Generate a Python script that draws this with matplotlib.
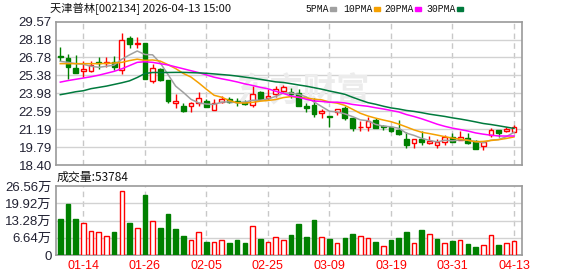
import numpy as np
import matplotlib
matplotlib.use("Agg")
import matplotlib.pyplot as plt

plt.rcParams['font.family'] = ['Noto Sans CJK SC', 'DejaVu Sans']

# ---------------- data ----------------
stock_title = "天津普林[002134] 2026-04-13 15:00"
date_labels = ["01-14", "01-26", "02-05", "02-25", "03-09", "03-19", "03-31", "04-13"]
date_label_idx = [3, 11, 19, 27, 35, 43, 51, 59]

opens = [26.89, 26.74, 25.97, 25.76, 25.71, 26.43, 26.38, 26.40, 25.84, 28.28,
         27.85, 27.90, 24.94, 25.89, 25.04, 23.27, 23.03, 22.98, 23.24, 23.42,
         22.70, 23.32, 23.52, 23.39, 23.34, 23.11, 24.09, 23.65, 23.91, 24.17,
         24.06, 24.04, 23.03, 23.06, 22.42, 22.19, 22.52, 22.88, 22.03, 21.34,
         21.39, 21.93, 21.44, 21.34, 21.13, 20.43, 20.15, 20.41, 20.13, 19.97,
         20.20, 20.56, 20.38, 20.48, 20.30, 19.89, 20.74, 21.10, 21.08, 20.97]
highs = [27.59, 27.05, 26.97, 26.48, 26.48, 26.79, 26.79, 26.89, 28.67, 28.44,
         28.36, 27.90, 26.30, 25.95, 25.04, 23.96, 23.24, 23.29, 24.06, 23.52,
         23.55, 23.81, 23.73, 23.65, 23.50, 24.53, 24.17, 24.32, 24.58, 24.63,
         24.37, 24.32, 23.27, 23.65, 22.78, 22.21, 22.78, 23.03, 22.03, 21.80,
         22.11, 22.06, 21.54, 21.39, 21.90, 20.94, 20.41, 21.03, 20.69, 20.46,
         20.72, 20.87, 21.08, 20.87, 20.38, 20.20, 21.26, 21.10, 21.39, 21.54]
lows = [26.48, 25.14, 25.61, 25.27, 25.66, 25.92, 26.05, 25.79, 25.53, 27.54,
        27.51, 25.07, 24.76, 24.94, 23.27, 22.88, 22.57, 22.57, 22.98, 22.91,
        22.67, 23.21, 23.27, 22.98, 23.06, 22.91, 23.52, 23.44, 23.70, 24.04,
        23.65, 22.98, 22.52, 22.18, 22.06, 21.34, 22.31, 21.90, 21.08, 21.08,
        21.08, 21.29, 21.13, 20.95, 20.74, 19.71, 19.76, 19.97, 20.05, 19.71,
        19.92, 20.18, 20.33, 20.05, 19.66, 19.58, 20.56, 20.61, 20.95, 20.95]
closes = [26.79, 26.02, 25.61, 25.89, 26.17, 26.38, 26.43, 26.07, 28.18, 27.85,
          27.90, 25.07, 25.94, 25.01, 23.37, 23.35, 22.62, 23.24, 23.63, 22.91,
          23.21, 23.52, 23.34, 23.29, 23.16, 23.93, 23.52, 23.81, 24.32, 24.45,
          23.96, 22.98, 22.83, 22.36, 22.62, 22.16, 22.73, 22.06, 21.29, 21.36,
          21.82, 21.29, 21.39, 21.03, 20.79, 19.92, 20.41, 20.23, 20.25, 20.20,
          20.56, 20.18, 20.61, 20.10, 19.66, 20.20, 21.10, 20.87, 21.21, 21.39]
prev_close = 26.95  # close of the day before the first visible candle

# volume in 万
volumes = [13.92, 19.73, 13.92, 12.25, 9.15, 8.77, 7.22, 8.90, 24.63, 12.38,
           10.31, 23.21, 13.02, 10.44, 15.86, 10.06, 7.35, 5.67, 8.77, 5.03,
           4.90, 5.67, 4.64, 5.80, 4.64, 11.09, 6.19, 4.90, 6.83, 5.67,
           7.74, 11.99, 6.96, 13.54, 6.83, 6.19, 4.51, 6.58, 8.12, 7.22,
           6.45, 5.03, 3.35, 5.80, 6.58, 8.90, 4.51, 9.67, 7.99, 6.19,
           4.51, 5.42, 5.67, 4.25, 3.09, 3.74, 7.61, 3.87, 4.51, 5.3784]

# moving-average values before enough visible closes exist
ma5_head = [26.48, 26.40, 26.30, 26.25]
ma10_head = [26.30, 26.30, 26.30, 26.30, 26.30, 26.30, 26.32, 26.35, 26.40]
ma20_head = [24.86, 24.98, 25.08, 25.18, 25.28, 25.40, 25.55, 25.70, 25.90, 26.15,
             26.40, 26.45, 26.40, 26.30, 26.20, 26.05, 25.90, 25.75, 25.60]
ma30_head = [23.88, 23.99, 24.11, 24.19, 24.35, 24.45, 24.55, 24.68, 24.81, 24.96,
             25.22, 25.53, 25.61, 25.61, 25.61, 25.62, 25.62, 25.60, 25.58, 25.55,
             25.50, 25.45, 25.40, 25.33, 25.25, 25.17, 25.08, 24.98, 24.88]

price_ticks = [18.40, 19.79, 21.19, 22.59, 23.98, 25.38, 26.78, 28.18, 29.57]
vol_ticks = [0, 6.64, 13.28, 19.92, 26.56]
vol_tick_labels = ["0", "6.64万", "13.28万", "19.92万", "26.56万"]
ma_names = ["5PMA", "10PMA", "20PMA", "30PMA"]

# ---------------- derived ----------------
o = np.array(opens); h = np.array(highs); l = np.array(lows); c = np.array(closes)
v = np.array(volumes)
n = len(c)
x = np.arange(n)


def moving_avg(head, window):
    vals = list(head)
    for i in range(len(head), n):
        vals.append(c[i - window + 1:i + 1].mean())
    return np.array(vals)


mas = [moving_avg(ma5_head, 5), moving_avg(ma10_head, 10),
       moving_avg(ma20_head, 20), moving_avg(ma30_head, 30)]
ma_colors = ["#a0a0a0", "#f5a000", "#ff00ff", "#007a3d"]

RED = "#ff0000"
GREEN = "#008000"
up = c >= o
prevc = np.concatenate([[prev_close], c[:-1]])
vol_up = c >= prevc

# ---------------- figure ----------------
W, H = 578, 276
fig = plt.figure(figsize=(W / 100, H / 100), dpi=100)


def fx(px):
    return px / W


def fy(py):
    return 1 - py / H


ax = fig.add_axes([fx(56), fy(165), fx(522) - fx(56), fy(21.7) - fy(165)])
axv = fig.add_axes([fx(56), fy(255), fx(522) - fx(56), fy(186.3) - fy(255)])

xlim = (-0.56, 60.04)
grid_c = "#d2d2d2"
dash_c = "#c8c8c8"
frame_c = "#9a9a9a"

for a in (ax, axv):
    a.set_xlim(*xlim)
    for s in a.spines.values():
        s.set_color(frame_c)
        s.set_linewidth(1.2)
    a.tick_params(axis='both', length=0)
    a.set_xticks([])
    for xi in date_label_idx:
        a.axvline(xi, color=dash_c, lw=1, ls=(0, (4, 3)), zorder=0)

# price panel
ax.set_ylim(price_ticks[0], price_ticks[-1])
ax.set_yticks(price_ticks)
ax.set_yticklabels([f"{t:.2f}" for t in price_ticks], family=['Liberation Sans'],
                   fontsize=9.5, color="#222233")
ax.tick_params(axis='y', pad=3)
for t in price_ticks[1:-1]:
    ax.axhline(t, color=grid_c, lw=1, zorder=0)

# watermark
ax.text(31.5, 24.05, "东方财富", fontsize=24, color="#ececec", ha='center',
        va='center', zorder=0.5, fontweight='bold')

bw = 0.62
ax.vlines(x[up], l[up], h[up], color=RED, lw=1, zorder=2)
ax.vlines(x[~up], l[~up], h[~up], color=GREEN, lw=1, zorder=2)
body_lo = np.minimum(o, c)
body_h = np.maximum(np.abs(c - o), 0.03)
ax.bar(x[up], body_h[up], bottom=body_lo[up], width=bw, facecolor="white",
       edgecolor=RED, lw=1, zorder=3)
ax.bar(x[~up], body_h[~up], bottom=body_lo[~up], width=bw, facecolor=GREEN,
       edgecolor=GREEN, lw=1, zorder=3)

for m, col in zip(mas, ma_colors):
    ax.plot(x, m, color=col, lw=1.1, zorder=4)

# volume panel
axv.set_ylim(vol_ticks[0], vol_ticks[-1])
axv.set_yticks(vol_ticks)
axv.set_yticklabels(vol_tick_labels, fontsize=9.5, color="#222233",
                    family=['Liberation Sans', 'Noto Sans CJK SC'])
axv.tick_params(axis='y', pad=3)
for t in vol_ticks[1:-1]:
    axv.axhline(t, color=grid_c, lw=1, zorder=0)
vb = 0.6
axv.bar(x[vol_up], v[vol_up], width=vb, facecolor="white", edgecolor=RED, lw=1,
        zorder=3)
axv.bar(x[~vol_up], v[~vol_up], width=vb, facecolor=GREEN, edgecolor=GREEN,
        lw=1, zorder=3)

# x labels (red) under volume panel
for xi, lab in zip(date_label_idx, date_labels):
    axv.text(xi, -0.16, lab, transform=axv.get_xaxis_transform(), ha='center',
             va='center', color=RED, fontsize=9, family=['Liberation Sans'])

# title and legend
fig.text(fx(50), fy(8.5), stock_title, fontsize=8.1, color="#111111",
         va='center', ha='left')
leg_x = [305, 343, 384, 426]
leg_sq = [330, 374, 415, 457]
for lx, sx, name, col in zip(leg_x, leg_sq, ma_names, ma_colors):
    fig.text(fx(lx), fy(8.5), name, fontsize=7.0, color="#111111",
             va='center', ha='left', family=['Liberation Mono'])
    fig.patches.append(plt.Rectangle((fx(sx), fy(10.5)), fx(5.5), 4 / H,
                                     transform=fig.transFigure, color=col,
                                     figure=fig))

fig.text(fx(57), fy(177.5), f"成交量:{v[-1] * 1e4:.0f}", fontsize=8.6,
         color="#111111", va='center', ha='left')

fig.savefig("out.png", dpi=100)
